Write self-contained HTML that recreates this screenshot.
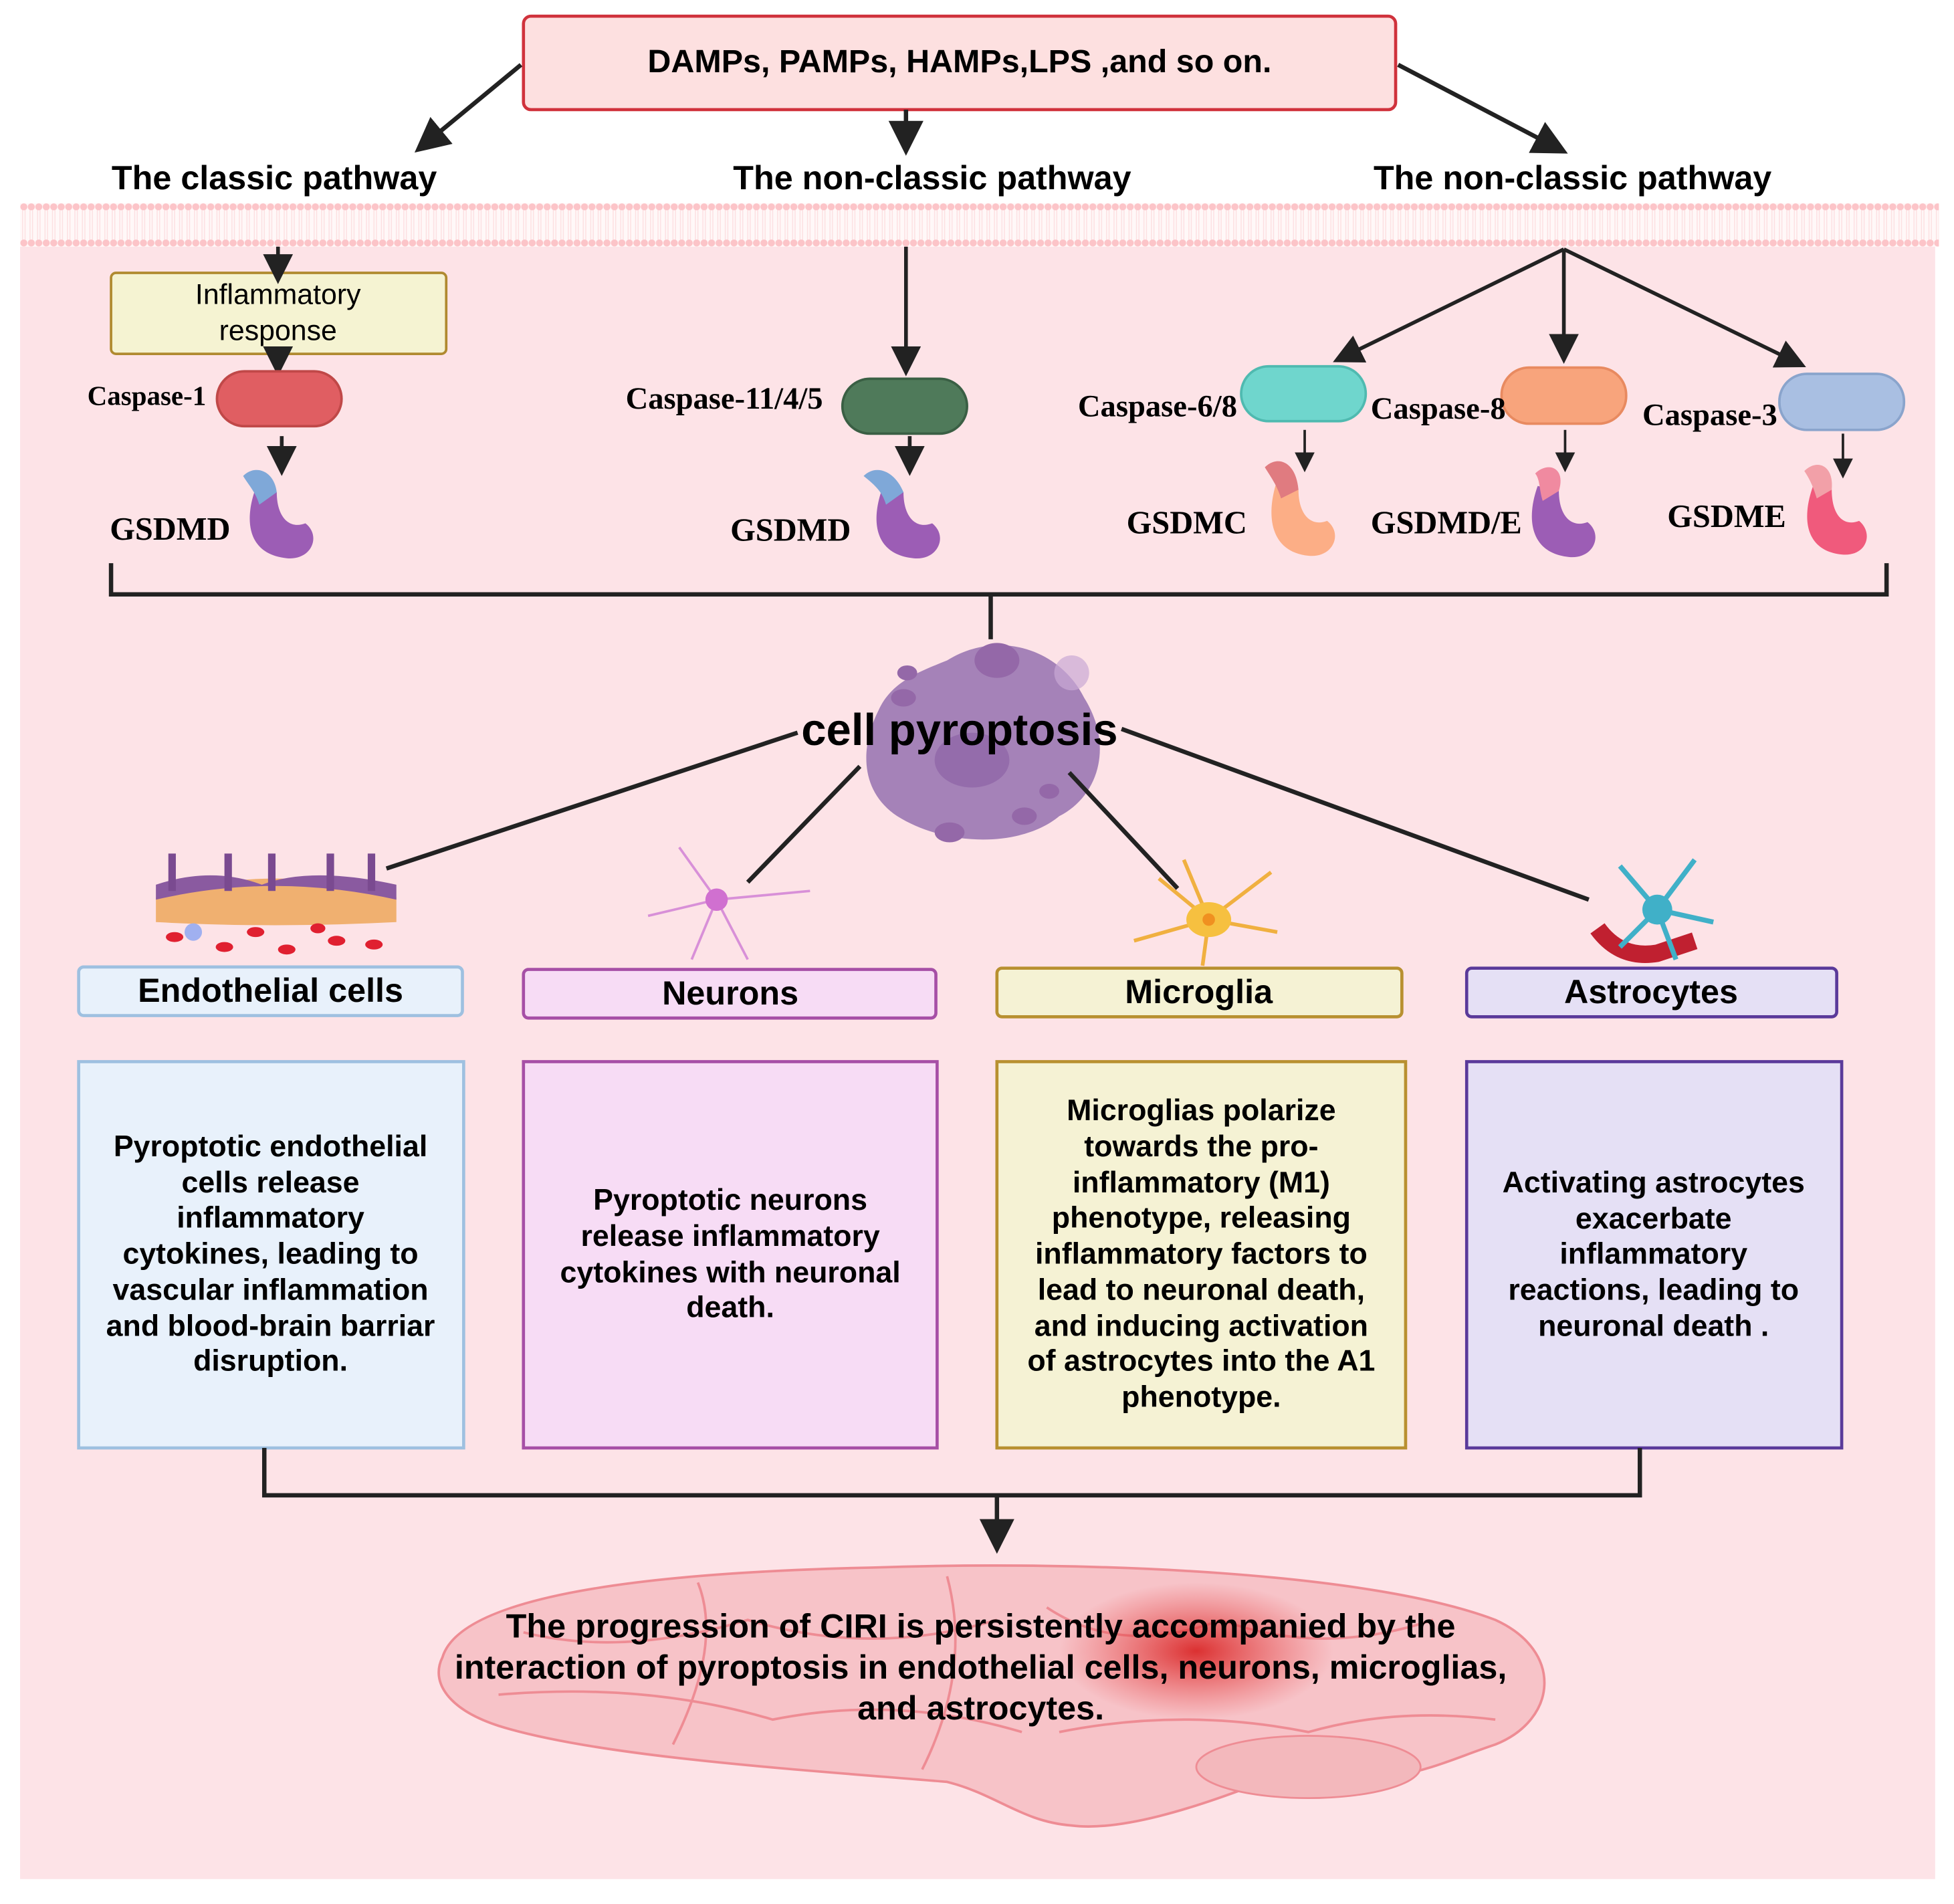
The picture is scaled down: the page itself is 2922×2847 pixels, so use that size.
<!DOCTYPE html>
<html><head><meta charset="utf-8"><style>
html,body{margin:0;padding:0;background:#fff}
svg{display:block}
text{font-family:"Liberation Sans",sans-serif}
.h{font-weight:bold;font-size:27px;text-anchor:middle}
.s{font-family:"Liberation Serif",serif;font-weight:bold;font-size:25px}
.g{font-family:"Liberation Serif",serif;font-weight:bold;font-size:26px}
.b{font-weight:bold;font-size:24px;text-anchor:middle}
</style></head><body>
<svg width="2922" height="2847" viewBox="0 0 1568 1528" xmlns="http://www.w3.org/2000/svg">
<defs>
<marker id="a" markerWidth="8" markerHeight="8" refX="6" refY="4" orient="auto" markerUnits="strokeWidth"><path d="M0,0 L8,4 L0,8 Z" fill="#222"/></marker>
<pattern id="mem" x="16" y="163" width="6" height="35" patternUnits="userSpaceOnUse"><rect width="6" height="35" fill="#fff8f8"/><line x1="2" y1="5" x2="2" y2="30" stroke="#fde0e2" stroke-width="0.8"/><line x1="4" y1="5" x2="4" y2="30" stroke="#fde0e2" stroke-width="0.8"/><circle cx="3" cy="3" r="2.8" fill="#fcc4c8"/><circle cx="3" cy="32" r="2.8" fill="#fcc4c8"/></pattern>
<radialGradient id="red" cx="0.5" cy="0.5" r="0.5"><stop offset="0" stop-color="#d82020" stop-opacity="0.9"/><stop offset="1" stop-color="#e84040" stop-opacity="0"/></radialGradient>
</defs>
<rect x="0" y="0" width="1568" height="1528" fill="#fff"/>
<rect x="16" y="196" width="1537" height="1312" fill="#fde3e7"/>
<rect x="16" y="163" width="1540" height="35" fill="url(#mem)"/>

<!-- top -->
<rect x="420" y="13" width="700" height="75" rx="6" fill="#fde0e0" stroke="#d0323c" stroke-width="2.5"/>
<text x="770" y="58" class="h" style="font-size:26px">DAMPs, PAMPs, HAMPs,LPS ,and so on.</text>
<g stroke="#222" stroke-width="3.5" marker-end="url(#a)" fill="none">
<line x1="418" y1="52" x2="338" y2="118"/>
<line x1="727" y1="88" x2="727" y2="118"/>
<line x1="1122" y1="52" x2="1252" y2="120"/>
</g>
<text x="220" y="152" class="h">The classic pathway</text>
<text x="748" y="152" class="h">The non-classic pathway</text>
<text x="1262" y="152" class="h">The non-classic pathway</text>

<!-- classic -->
<rect x="89" y="219" width="269" height="65" rx="4" fill="#f5f3d2" stroke="#b08a30" stroke-width="2"/>
<text x="223" y="244" text-anchor="middle" font-size="23">Inflammatory</text>
<text x="223" y="273" text-anchor="middle" font-size="23">response</text>
<g stroke="#222" stroke-width="3" marker-end="url(#a)" fill="none">
<line x1="223" y1="198" x2="223" y2="222"/>
<line x1="223" y1="284" x2="223" y2="296"/>
<line x1="226" y1="350" x2="226" y2="376"/>
<line x1="727" y1="198" x2="727" y2="296"/>
<line x1="730" y1="350" x2="730" y2="376"/>
<line x1="1255" y1="200" x2="1075" y2="288"/>
<line x1="1255" y1="200" x2="1255" y2="286"/>
<line x1="1255" y1="200" x2="1444" y2="292"/>
</g>
<g stroke="#222" stroke-width="2" marker-end="url(#a)" fill="none">
<line x1="1047" y1="345" x2="1047" y2="375"/>
<line x1="1256" y1="345" x2="1256" y2="375"/>
<line x1="1479" y1="348" x2="1479" y2="380"/>
</g>
<rect x="174" y="298" width="100" height="44" rx="22" fill="#e05e62" stroke="#c04848" stroke-width="2"/>
<text x="70" y="325" class="s" style="font-size:22px">Caspase-1</text>
<rect x="676" y="304" width="100" height="44" rx="22" fill="#4f7a5a" stroke="#3a5f44" stroke-width="2"/>
<text x="502" y="328" class="s">Caspase-11/4/5</text>
<rect x="996" y="294" width="100" height="44" rx="22" fill="#6fd6cd" stroke="#4fbab0" stroke-width="2"/>
<text x="865" y="334" class="s">Caspase-6/8</text>
<rect x="1205" y="295" width="100" height="45" rx="22" fill="#f8a47c" stroke="#e88a60" stroke-width="2"/>
<text x="1100" y="336" class="s">Caspase-8</text>
<rect x="1428" y="300" width="100" height="45" rx="22" fill="#a9bfe2" stroke="#8aa4cc" stroke-width="2"/>
<text x="1318" y="341" class="s">Caspase-3</text>

<!-- GSDM shapes -->
<g>
<path d="M205,392 C195,420 200,445 230,448 C250,450 258,430 245,420 C232,425 222,415 222,395 Z" fill="#9c5db5"/>
<path d="M195,382 C205,372 220,378 222,395 L208,405 C205,395 200,390 195,382Z" fill="#7fa8d8"/>
<path d="M708,392 C698,420 703,445 733,448 C753,450 761,430 748,420 C735,425 725,415 725,395 Z" fill="#9c5db5"/>
<path d="M693,382 C703,372 718,378 725,395 L711,405 C708,395 703,390 693,382Z" fill="#7fa8d8"/>
<path d="M1025,385 C1015,415 1020,443 1050,446 C1070,448 1078,428 1065,418 C1052,423 1042,413 1042,393 Z" fill="#fcae86"/>
<path d="M1015,375 C1025,365 1040,370 1042,393 L1028,400 C1025,390 1020,383 1015,375Z" fill="#e07b80"/>
<path d="M1234,390 C1224,418 1229,444 1259,447 C1279,449 1287,429 1274,419 C1261,424 1251,414 1251,394 Z" fill="#9c5db5"/>
<path d="M1232,380 C1242,370 1257,375 1251,394 L1238,402 C1235,392 1236,385 1232,380Z" fill="#f08aa0"/>
<path d="M1455,390 C1445,418 1450,442 1478,445 C1498,447 1504,428 1492,418 C1479,423 1470,413 1470,393 Z" fill="#f05a7c"/>
<path d="M1448,378 C1458,368 1472,373 1470,393 L1458,400 C1455,390 1452,384 1448,378Z" fill="#f2a0a8"/>
</g>
<text x="88" y="433" class="g">GSDMD</text>
<text x="586" y="434" class="g">GSDMD</text>
<text x="904" y="428" class="g">GSDMC</text>
<text x="1100" y="428" class="g">GSDMD/E</text>
<text x="1338" y="423" class="g">GSDME</text>

<path d="M89,452 V477 H1514 V452 M795,477 V513" stroke="#222" stroke-width="3.5" fill="none"/>

<!-- cell -->
<g>
<path d="M760,530 C800,505 850,520 870,560 C895,600 880,640 850,655 C820,680 760,680 720,655 C690,635 690,600 705,570 C715,548 735,540 760,530Z" fill="#a582b8"/>
<ellipse cx="800" cy="530" rx="18" ry="14" fill="#9468a8"/>
<circle cx="860" cy="540" r="14" fill="#c9a8d4" opacity="0.7"/>
<ellipse cx="725" cy="560" rx="10" ry="7" fill="#9468a8"/>
<ellipse cx="728" cy="540" rx="8" ry="6" fill="#9468a8"/>
<ellipse cx="822" cy="655" rx="10" ry="7" fill="#9468a8"/>
<ellipse cx="762" cy="668" rx="12" ry="8" fill="#9468a8"/>
<ellipse cx="842" cy="635" rx="8" ry="6" fill="#9468a8"/>
<ellipse cx="780" cy="610" rx="30" ry="22" fill="#946cab"/>
</g>
<text x="770" y="598" class="h" style="font-size:36px">cell pyroptosis</text>
<g stroke="#222" stroke-width="3.5">
<line x1="640" y1="588" x2="310" y2="697"/>
<line x1="690" y1="615" x2="600" y2="708"/>
<line x1="858" y1="620" x2="945" y2="713"/>
<line x1="900" y1="585" x2="1275" y2="722"/>
</g>

<!-- icons -->
<g>
<path d="M125,720 Q220,690 318,720 L318,740 Q220,745 125,740Z" fill="#f0b070"/>
<path d="M125,710 Q170,695 210,710 Q250,695 318,710 L318,722 Q220,700 125,722Z" fill="#8a5aa0"/>
<rect x="135" y="685" width="6" height="30" fill="#7a4a90"/><rect x="180" y="685" width="6" height="30" fill="#7a4a90"/><rect x="215" y="685" width="6" height="30" fill="#7a4a90"/><rect x="262" y="685" width="6" height="30" fill="#7a4a90"/><rect x="295" y="685" width="6" height="30" fill="#7a4a90"/>
<g fill="#e02030"><ellipse cx="140" cy="752" rx="7" ry="4"/><ellipse cx="180" cy="760" rx="7" ry="4"/><ellipse cx="205" cy="748" rx="7" ry="4"/><ellipse cx="230" cy="762" rx="7" ry="4"/><ellipse cx="270" cy="755" rx="7" ry="4"/><ellipse cx="300" cy="758" rx="7" ry="4"/><ellipse cx="255" cy="745" rx="6" ry="4"/></g>
<circle cx="155" cy="748" r="7" fill="#a0b0f0"/>
<g stroke="#d890d8" stroke-width="2" fill="none"><path d="M575,722 L545,680 M575,722 L650,715 M575,722 L555,770 M575,722 L600,770 M575,722 L520,735"/></g>
<circle cx="575" cy="722" r="9" fill="#d070d0"/>
<g stroke="#f0b040" stroke-width="3" fill="none"><path d="M970,738 L930,705 M970,738 L1020,700 M970,738 L910,755 M970,738 L1025,748 M970,738 L965,775 M970,738 L950,690"/></g>
<ellipse cx="970" cy="738" rx="18" ry="14" fill="#f6c040"/><circle cx="970" cy="738" r="5" fill="#f09020"/>
<path d="M1282,745 Q1300,770 1330,765 L1360,755" stroke="#c02030" stroke-width="14" fill="none"/>
<g stroke="#40b0c8" stroke-width="4" fill="none"><path d="M1330,730 L1300,695 M1330,730 L1360,690 M1330,730 L1375,740 M1330,730 L1300,760 M1330,730 L1345,770"/></g>
<circle cx="1330" cy="730" r="12" fill="#40b0c8"/>
</g>

<!-- cell type labels -->
<rect x="63" y="776" width="308" height="39" rx="4" fill="#e8f1fb" stroke="#9ec0e0" stroke-width="2.5"/>
<text x="217" y="804" class="h">Endothelial cells</text>
<rect x="420" y="778" width="331" height="39" rx="4" fill="#f7dcf5" stroke="#a64fa6" stroke-width="2.5"/>
<text x="586" y="806" class="h">Neurons</text>
<rect x="800" y="777" width="325" height="39" rx="4" fill="#f5f2d4" stroke="#b89030" stroke-width="2.5"/>
<text x="962" y="805" class="h">Microglia</text>
<rect x="1177" y="777" width="297" height="39" rx="4" fill="#e5e0f5" stroke="#5a3a9a" stroke-width="2.5"/>
<text x="1325" y="805" class="h">Astrocytes</text>

<rect x="63" y="852" width="309" height="310" fill="#e8f1fb" stroke="#9ec0e0" stroke-width="2.5"/>
<rect x="420" y="852" width="332" height="310" fill="#f7dcf5" stroke="#a64fa6" stroke-width="2.5"/>
<rect x="800" y="852" width="328" height="310" fill="#f5f2d4" stroke="#b89030" stroke-width="2.5"/>
<rect x="1177" y="852" width="301" height="310" fill="#e5e0f5" stroke="#5a3a9a" stroke-width="2.5"/>
<g>
<text class="b" x="217" y="928">Pyroptotic endothelial</text>
<text class="b" x="217" y="957">cells release</text>
<text class="b" x="217" y="985">inflammatory</text>
<text class="b" x="217" y="1014">cytokines, leading to</text>
<text class="b" x="217" y="1043">vascular inflammation</text>
<text class="b" x="217" y="1072">and blood-brain barriar</text>
<text class="b" x="217" y="1100">disruption.</text>
<text class="b" x="586" y="971">Pyroptotic neurons</text>
<text class="b" x="586" y="1000">release inflammatory</text>
<text class="b" x="586" y="1029">cytokines with neuronal</text>
<text class="b" x="586" y="1057">death.</text>
<text class="b" x="964" y="899">Microglias polarize</text>
<text class="b" x="964" y="928">towards the pro-</text>
<text class="b" x="964" y="957">inflammatory (M1)</text>
<text class="b" x="964" y="985">phenotype, releasing</text>
<text class="b" x="964" y="1014">inflammatory factors to</text>
<text class="b" x="964" y="1043">lead to neuronal death,</text>
<text class="b" x="964" y="1072">and inducing activation</text>
<text class="b" x="964" y="1100">of astrocytes into the A1</text>
<text class="b" x="964" y="1129">phenotype.</text>
<text class="b" x="1327" y="957">Activating astrocytes</text>
<text class="b" x="1327" y="986">exacerbate</text>
<text class="b" x="1327" y="1014">inflammatory</text>
<text class="b" x="1327" y="1043">reactions, leading to</text>
<text class="b" x="1327" y="1072">neuronal death .</text>
</g>

<path d="M212,1162 V1200 H1316 V1162" stroke="#222" stroke-width="3.5" fill="none"/>
<line x1="800" y1="1200" x2="800" y2="1240" stroke="#222" stroke-width="3.5" marker-end="url(#a)"/>

<!-- brain -->
<path d="M355,1330 C370,1280 520,1262 700,1258 C880,1252 1100,1262 1200,1300 C1255,1325 1250,1380 1200,1400 C1170,1410 1150,1420 1120,1425 C1100,1445 1050,1440 1000,1435 C960,1450 900,1470 860,1465 C820,1462 800,1440 760,1430 C640,1420 480,1410 400,1385 C360,1372 345,1350 355,1330Z" fill="#f7c3c8" stroke="#ee8c94" stroke-width="2"/>
<ellipse cx="1050" cy="1418" rx="90" ry="25" fill="#f3b8bc" stroke="#ee8c94" stroke-width="1.5"/>
<g stroke="#ee8c94" stroke-width="2" fill="none">
<path d="M420,1310 Q500,1330 600,1300 Q700,1330 800,1300"/>
<path d="M400,1360 Q520,1350 620,1380 Q720,1360 820,1390"/>
<path d="M840,1290 Q900,1330 980,1300 Q1060,1330 1150,1300"/>
<path d="M850,1390 Q950,1370 1050,1390 Q1120,1370 1200,1380"/>
<path d="M560,1270 Q580,1320 540,1400"/>
<path d="M760,1265 Q780,1340 740,1420"/>
</g>
<ellipse cx="960" cy="1325" rx="110" ry="55" fill="url(#red)"/>
<text x="787" y="1314" class="h">The progression of CIRI is persistently accompanied by the</text>
<text x="787" y="1347" class="h">interaction of pyroptosis in endothelial cells, neurons, microglias,</text>
<text x="787" y="1380" class="h">and astrocytes.</text>
</svg>
</body></html>
